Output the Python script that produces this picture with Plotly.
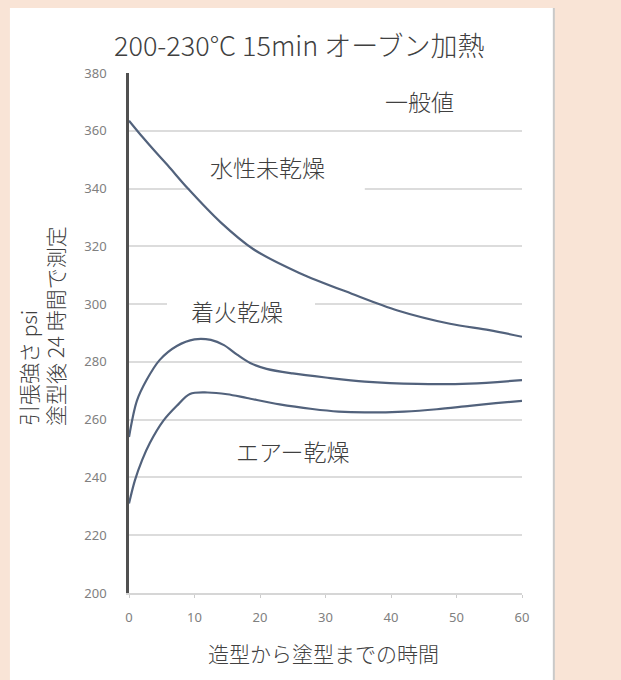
import plotly.graph_objects as go

# ---- data ----
x_water = [0, 2, 4, 6, 9, 14, 19, 26, 34, 41, 49, 55, 60]
y_water = [363.5, 358, 352.8, 347.8, 340, 328.3, 319, 310.8, 303.6, 297.8, 293.2, 291, 288.7]

x_fire = [0, 1.2, 2.7, 4.7, 7.3, 10, 12.5, 14.5, 16.5, 18.5, 21, 25, 30, 36, 44, 52, 60]
y_fire = [254, 266.5, 273.8, 280.7, 285.5, 287.8, 287.6, 285.8, 282.5, 279.6, 277.6, 276, 274.6, 273.2, 272.4, 272.5, 273.7]

x_air = [0, 0.9, 2, 3.2, 5.2, 7.3, 9.3, 12, 15, 18, 23, 28, 32, 36, 42, 47, 52, 56, 60]
y_air = [231, 239, 246, 252, 259.5, 264.8, 268.9, 269.4, 268.8, 267.5, 265.3, 263.7, 262.8, 262.5, 262.8, 263.6, 264.8, 265.7, 266.5]

x_ticks = [0, 10, 20, 30, 40, 50, 60]
y_ticks = [200, 220, 240, 260, 280, 300, 320, 340, 360, 380]

label_text = ["一般値", "水性未乾燥", "着火乾燥", "エアー乾燥"]
label_x = [44.4, 21.2, 16.5, 25.0]
label_y = [370.4, 347.3, 297.5, 249.1]

title_text = "200-230°C 15min オーブン加熱"
x_title = "造型から塗型までの時間"
y_title = "引張強さ psi<br>塗型後 24 時間で測定"

FONT = "Noto Sans CJK JP"
LINE = "#52627c"
GRID = "#dcdcdc"
TXT = "#404040"

fig = go.Figure()
for xs, ys in [(x_water, y_water), (x_fire, y_fire), (x_air, y_air)]:
    fig.add_trace(go.Scatter(x=xs, y=ys, mode="lines",
                             line=dict(color=LINE, width=2.2, shape="spline", smoothing=0.9),
                             showlegend=False, hoverinfo="skip"))

shapes = [
    # white panel
    dict(type="rect", xref="paper", yref="paper", x0=-0.303, x1=1.081, y0=-0.2, y1=1.125,
         fillcolor="white", line=dict(width=0), layer="below"),
    dict(type="line", xref="paper", yref="paper", x0=1.081, x1=1.081, y0=-0.2, y1=1.125,
         line=dict(color="#c9c9c9", width=2), layer="below"),
    # white boxes behind labels, hiding gridlines
    dict(type="rect", x0=35.6, x1=56.6, y0=360.6, y1=381, fillcolor="white",
         line=dict(width=0), layer="between"),
    dict(type="rect", x0=9.3, x1=36.0, y0=338.5, y1=355, fillcolor="white",
         line=dict(width=0), layer="between"),
    dict(type="rect", x0=5.8, x1=28.4, y0=290.5, y1=305, fillcolor="white",
         line=dict(width=0), layer="between"),
]

annotations = []
for t, xx, yy in zip(label_text, label_x, label_y):
    annotations.append(dict(text=t, x=xx, y=yy, xref="x", yref="y", showarrow=False,
                            font=dict(family=FONT, size=23, color=TXT, weight=300)))
annotations.append(dict(text=title_text, x=0.435, y=1.054, xref="paper", yref="paper",
                        showarrow=False, xanchor="center", yanchor="middle",
                        font=dict(family=FONT, size=27, color=TXT, weight=300)))
annotations.append(dict(text=x_title, x=0.494, y=-0.115, xref="paper", yref="paper",
                        showarrow=False, xanchor="center", yanchor="middle",
                        font=dict(family=FONT, size=21, color=TXT, weight=300)))
annotations.append(dict(text=y_title, x=-0.223, y=0.318, xref="paper", yref="paper",
                        showarrow=False, xanchor="center", yanchor="bottom", textangle=-90,
                        align="left",
                        font=dict(family=FONT, size=21, color=TXT, weight=300)))

fig.update_layout(
    width=621, height=680,
    margin=dict(l=129, r=99, t=73, b=87, pad=0),
    paper_bgcolor="#f9e4d6",
    plot_bgcolor="white",
    shapes=shapes,
    annotations=annotations,
    xaxis=dict(range=[0, 60], tickvals=x_ticks, showgrid=False, zeroline=False,
               showline=True, linecolor="#d6d6d6", linewidth=2,
               ticks="outside", ticklen=3, tickcolor="#cccccc",
               tickfont=dict(family="Noto Sans", size=13, color="#808080"),
               ticklabelstandoff=8, fixedrange=True),
    yaxis=dict(range=[200, 380], tickvals=y_ticks, showgrid=True, gridcolor=GRID, gridwidth=2,
               zeroline=False, showline=True, linecolor="#505050", linewidth=2.5,
               ticks="", tickfont=dict(family="Noto Sans", size=13, color="#808080"),
               ticklabelstandoff=17, fixedrange=True),
)

fig.write_html("out.html", config={"displayModeBar": False},
               post_script="document.body.style.margin='0';document.body.style.background='#f9e4d6';")
